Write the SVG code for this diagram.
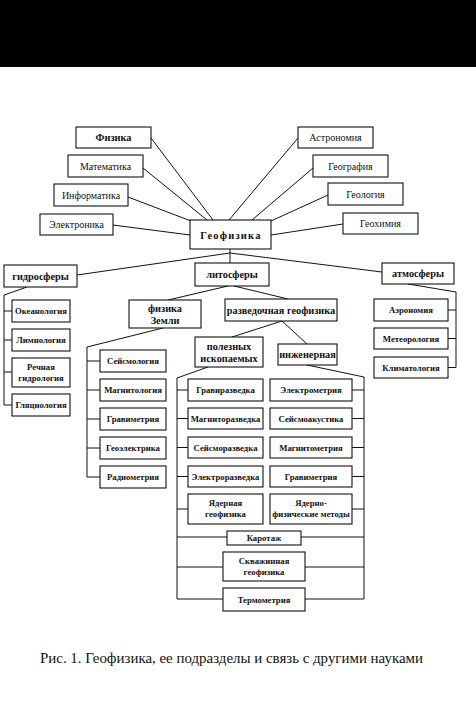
<svg xmlns="http://www.w3.org/2000/svg" width="476" height="701" viewBox="0 0 476 701">
<style>
.b{fill:#fff;stroke:#111;stroke-width:1.1}
.c line,.c polyline{stroke:#111;stroke-width:1;fill:none}
text{font-family:'Liberation Serif','Times New Roman',Tinos,'DejaVu Serif',serif;fill:#111;text-anchor:middle}
.t{font-size:10px}
.g{font-size:10.5px;font-weight:bold;letter-spacing:1.2px}
.m{font-size:10.3px;font-weight:bold}
.s{font-size:8.7px;font-weight:bold}
.cap{font-size:14.5px;text-anchor:start}
</style>
<rect x="0" y="0" width="476" height="67" fill="#000"/>
<g class="c" id="connectors">
<line x1="151" y1="138" x2="213" y2="220"/>
<line x1="143" y1="168" x2="207" y2="220"/>
<line x1="128" y1="197" x2="191" y2="221"/>
<line x1="113" y1="225" x2="190" y2="235"/>
<line x1="298" y1="138" x2="229" y2="220"/>
<line x1="313" y1="168" x2="252" y2="220"/>
<line x1="328" y1="195" x2="271" y2="221"/>
<line x1="343" y1="224" x2="271" y2="235"/>
<line x1="230" y1="249" x2="230" y2="263"/>
<line x1="77" y1="275" x2="230" y2="253"/>
<line x1="230" y1="253" x2="382" y2="272"/>
<polyline points="27,287 4,295 4,405 12,405"/>
<line x1="4" y1="311" x2="12" y2="311"/>
<line x1="4" y1="340" x2="12" y2="340"/>
<line x1="4" y1="372" x2="12" y2="372"/>
<line x1="228" y1="286" x2="168" y2="300"/>
<line x1="234" y1="286" x2="288" y2="299"/>
<polyline points="163,328 87,347 87,477 100,477"/>
<line x1="87" y1="361" x2="100" y2="361"/>
<line x1="87" y1="390" x2="100" y2="390"/>
<line x1="87" y1="419" x2="100" y2="419"/>
<line x1="87" y1="448" x2="100" y2="448"/>
<line x1="282" y1="321" x2="232" y2="337"/>
<line x1="282" y1="321" x2="307" y2="344"/>
<polyline points="208,367 177,378 177,599 223,599"/>
<polyline points="307,365 364,377 364,599 305,599"/>
<line x1="177" y1="390" x2="188" y2="390"/>
<line x1="177" y1="418.5" x2="188" y2="418.5"/>
<line x1="177" y1="447.5" x2="188" y2="447.5"/>
<line x1="177" y1="476.5" x2="188" y2="476.5"/>
<line x1="177" y1="509" x2="188" y2="509"/>
<line x1="352" y1="390" x2="364" y2="390"/>
<line x1="352" y1="418.5" x2="364" y2="418.5"/>
<line x1="352" y1="447.5" x2="364" y2="447.5"/>
<line x1="352" y1="476.5" x2="364" y2="476.5"/>
<line x1="352" y1="509" x2="364" y2="509"/>
<line x1="177" y1="537" x2="227" y2="537"/>
<line x1="301" y1="537" x2="364" y2="537"/>
<line x1="177" y1="567" x2="223" y2="567"/>
<line x1="305" y1="567" x2="364" y2="567"/>
<polyline points="408,284 456,292 456,367.5 448,367.5"/>
<line x1="448" y1="310" x2="456" y2="310"/>
<line x1="448" y1="338.5" x2="456" y2="338.5"/>
</g>
<g id="fizika"><rect class="b" x="76" y="127" width="75" height="21"/><text class="m" x="113.5" y="141">Физика</text></g>
<g id="matematika"><rect class="b" x="68" y="155" width="75" height="22"/><text class="t" x="105.5" y="169.5">Математика</text></g>
<g id="informatika"><rect class="b" x="54" y="184" width="74" height="22"/><text class="t" x="91" y="198.5">Информатика</text></g>
<g id="elektronika"><rect class="b" x="40" y="214" width="73" height="21"/><text class="t" x="76.5" y="228">Электроника</text></g>
<g id="astronomiya"><rect class="b" x="298" y="127" width="75" height="21"/><text class="t" x="335.5" y="141">Астрономия</text></g>
<g id="geografiya"><rect class="b" x="313" y="155" width="75" height="22"/><text class="t" x="350.5" y="169.5">География</text></g>
<g id="geologiya"><rect class="b" x="328" y="183" width="75" height="22"/><text class="t" x="365.5" y="197.5">Геология</text></g>
<g id="geohimiya"><rect class="b" x="343" y="213" width="75" height="21"/><text class="t" x="380.5" y="227">Геохимия</text></g>
<g id="geofizika"><rect class="b" x="190" y="220" width="81" height="29"/><text class="g" x="231" y="238.5">Геофизика</text></g>
<g id="gidrosfery"><rect class="b" x="4" y="265" width="73" height="22"/><text class="m" x="40.5" y="279.5">гидросферы</text></g>
<g id="litosfery"><rect class="b" x="195" y="263" width="74" height="23"/><text class="m" x="232" y="278">литосферы</text></g>
<g id="atmosfery"><rect class="b" x="382" y="263" width="72" height="21"/><text class="m" x="418" y="277">атмосферы</text></g>
<g id="okeanologiya"><rect class="b" x="12" y="300" width="58" height="22"/><text class="s" x="41" y="314">Океанология</text></g>
<g id="limnologiya"><rect class="b" x="12" y="329" width="58" height="22"/><text class="s" x="41" y="343">Лимнология</text></g>
<g id="rechnaya"><rect class="b" x="12" y="358" width="58" height="29"/><text class="s" x="41" y="369.5">Речная</text><text class="s" x="41" y="380.5">гидрология</text></g>
<g id="glyaciologiya"><rect class="b" x="12" y="394" width="58" height="22"/><text class="s" x="41" y="408">Гляциология</text></g>
<g id="fizika-zemli"><rect class="b" x="129" y="300" width="72" height="28"/><text class="m" x="165" y="312">физика</text><text class="m" x="165" y="324">Земли</text></g>
<g id="razvedochnaya"><rect class="b" x="225" y="299" width="112" height="22"/><text class="m" x="281" y="313.5">разведочная геофизика</text></g>
<g id="seysmologiya"><rect class="b" x="100" y="350" width="66" height="22"/><text class="s" x="133" y="364">Сейсмология</text></g>
<g id="magnitologiya"><rect class="b" x="100" y="379" width="66" height="22"/><text class="s" x="133" y="393">Магнитология</text></g>
<g id="gravimetriya1"><rect class="b" x="100" y="408" width="66" height="22"/><text class="s" x="133" y="422">Гравиметрия</text></g>
<g id="geoelektrika"><rect class="b" x="100" y="437" width="66" height="22"/><text class="s" x="133" y="451">Геоэлектрика</text></g>
<g id="radiometriya"><rect class="b" x="100" y="466" width="66" height="22"/><text class="s" x="133" y="480">Радиометрия</text></g>
<g id="poleznyh"><rect class="b" x="195" y="337" width="68" height="30"/><text class="m" x="229" y="349.5">полезных</text><text class="m" x="229" y="362">ископаемых</text></g>
<g id="inzhenernaya"><rect class="b" x="278" y="344" width="59" height="21"/><text class="m" x="307.5" y="358">инженерная</text></g>
<g id="gravirazvedka"><rect class="b" x="188" y="379" width="75" height="22"/><text class="s" x="225.5" y="393">Гравиразведка</text></g>
<g id="magnitorazvedka"><rect class="b" x="188" y="408" width="75" height="21"/><text class="s" x="225.5" y="421.5">Магниторазведка</text></g>
<g id="seysmorazvedka"><rect class="b" x="188" y="437" width="75" height="21"/><text class="s" x="225.5" y="450.5">Сейсморазведка</text></g>
<g id="elektrorazvedka"><rect class="b" x="188" y="466" width="75" height="21"/><text class="s" x="225.5" y="479.5">Электроразведка</text></g>
<g id="yadernaya"><rect class="b" x="188" y="494" width="75" height="30"/><text class="s" x="225.5" y="506">Ядерная</text><text class="s" x="225.5" y="517">геофизика</text></g>
<g id="elektrometriya"><rect class="b" x="270" y="379" width="82" height="22"/><text class="s" x="311" y="393">Электрометрия</text></g>
<g id="seysmoakustika"><rect class="b" x="270" y="408" width="82" height="21"/><text class="s" x="311" y="421.5">Сейсмоакустика</text></g>
<g id="magnitometriya"><rect class="b" x="270" y="437" width="82" height="21"/><text class="s" x="311" y="450.5">Магнитометрия</text></g>
<g id="gravimetriya2"><rect class="b" x="270" y="466" width="82" height="21"/><text class="s" x="311" y="479.5">Гравиметрия</text></g>
<g id="yaderno-fiz"><rect class="b" x="270" y="494" width="82" height="30"/><text class="s" x="311" y="506">Ядерно-</text><text class="s" x="311" y="517">физические методы</text></g>
<g id="karotazh"><rect class="b" x="227" y="531" width="74" height="14"/><text class="s" x="264" y="541">Каротаж</text></g>
<g id="skvazhinnaya"><rect class="b" x="223" y="552" width="82" height="29"/><text class="s" x="264" y="563.5">Скважинная</text><text class="s" x="264" y="574.5">геофизика</text></g>
<g id="termometriya"><rect class="b" x="223" y="588" width="82" height="23"/><text class="s" x="264" y="602.5">Термометрия</text></g>
<g id="aeronomiya"><rect class="b" x="374" y="299" width="74" height="22"/><text class="s" x="411" y="313">Аэрономия</text></g>
<g id="meteorologiya"><rect class="b" x="374" y="328" width="74" height="21"/><text class="s" x="411" y="341.5">Метеорология</text></g>
<g id="klimatologiya"><rect class="b" x="374" y="357" width="74" height="21"/><text class="s" x="411" y="370.5">Климатология</text></g>
<text class="cap" x="40" y="663" textLength="383" lengthAdjust="spacingAndGlyphs">Рис. 1. Геофизика, ее подразделы и связь с другими науками</text>
</svg>
